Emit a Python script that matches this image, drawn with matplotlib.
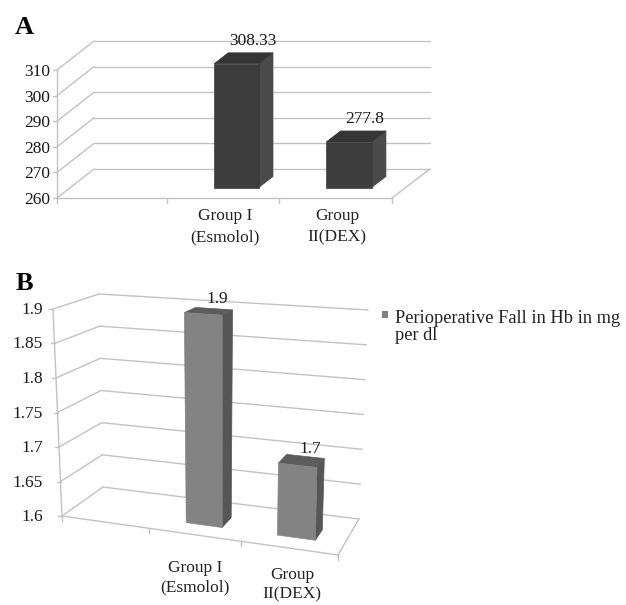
import matplotlib
matplotlib.use('Agg')
import matplotlib.pyplot as plt

plt.rcParams['font.family'] = ['Liberation Serif', 'DejaVu Serif']

# data
groups = ['Group I\n(Esmolol)', 'Group\nII(DEX)']
a_values = [308.33, 277.8]
a_labels = ['308.33', '277.8']
a_ticks = [260, 270, 280, 290, 300, 310]
a_ticklabels = ['260', '270', '280', '290', '300', '310']
b_values = [1.9, 1.7]
b_labels = ['1.9', '1.7']
b_ticks = [1.6, 1.65, 1.7, 1.75, 1.8, 1.85, 1.9]
b_ticklabels = ['1.6', '1.65', '1.7', '1.75', '1.8', '1.85', '1.9']
legend_text = 'Perioperative Fall in Hb in mg\nper dl'

GRID = '#c2c2c2'

fig = plt.figure(figsize=(6.26, 6.05), dpi=100)
ax = fig.add_axes([0, 0, 1, 1])
ax.set_xlim(0, 626)
ax.set_ylim(605, 0)
ax.axis('off')


def make_box(corners, vmin, vmax, warp):
    # corners: pixel place of the box corners, key = (right, top, back)
    def project(cat, val, depth):
        t = cat / 3
        t = t / (warp - (warp - 1) * t)
        f = (val - vmin) / (vmax - vmin)
        px, py = 0, 0
        for (r, u, b), (cx, cy) in corners.items():
            w = (t if r else 1 - t) * (f if u else 1 - f) * (depth if b else 1 - depth)
            px += w * cx
            py += w * cy
        return px, py
    return project


def line(p, q, lw=1.0, color=GRID):
    ax.plot([p[0], q[0]], [p[1], q[1]], color=color, lw=lw, solid_capstyle='round', zorder=1)


def draw_panel(project, ticks, ticklabels, values, labels, label_off, cols, bar_w, d0, d1, tick_x, tick_dy):
    vmin, vmax = ticks[0], ticks[-1]
    # walls
    for v, tl in zip(ticks, ticklabels):
        line(project(0, v, 0), project(0, v, 1))
        line(project(0, v, 1), project(3, v, 1))
        p = project(0, v, 0)
        line(p, (p[0] - 4, p[1]))
        ax.text(tick_x, p[1] + tick_dy, tl, ha='right', va='center', fontsize=12.5, color='#1a1a1a')
    line(project(0, vmin, 0), project(0, vmax, 0))
    # floor
    line(project(0, vmin, 0), project(3, vmin, 0))
    line(project(3, vmin, 0), project(3, vmin, 1))
    for c in range(4):
        p = project(c, vmin, 0)
        line(p, (p[0], p[1] + 5))
    # bars, first category slot stays empty
    for i, v in enumerate(values):
        c = i + 1.5
        l, r = c - bar_w / 2, c + bar_w / 2
        front = [project(l, vmin, d0), project(r, vmin, d0), project(r, v, d0), project(l, v, d0)]
        side = [project(r, vmin, d0), project(r, vmin, d1), project(r, v, d1), project(r, v, d0)]
        top = [project(l, v, d0), project(r, v, d0), project(r, v, d1), project(l, v, d1)]
        ax.fill(*zip(*side), color=cols[1], lw=0.5, zorder=2)
        ax.fill(*zip(*top), color=cols[2], lw=0.5, zorder=2)
        ax.fill(*zip(*front), color=cols[0], lw=0.5, zorder=3)
        tx, ty = project(c, v, (d0 + d1) / 2)
        ax.text(tx + label_off[0], ty + label_off[1], labels[i], ha='center', va='center',
                fontsize=12.5, color='#1a1a1a', zorder=4)


# panel A
corners_a = {
    (0, 0, 0): (57, 198), (1, 0, 0): (392, 198), (0, 1, 0): (57, 70), (1, 1, 0): (392, 70),
    (0, 0, 1): (94, 169), (1, 0, 1): (430, 169), (0, 1, 1): (94, 41), (1, 1, 1): (430, 41),
}
proj_a = make_box(corners_a, a_ticks[0], a_ticks[-1], 1.02)
draw_panel(proj_a, a_ticks, a_ticklabels, a_values, a_labels, (9, -17),
           ('#3d3d3d', '#4b4b4b', '#353535'), 0.40, 0.36, 0.74, 50, 2)

# panel B
corners_b = {
    (0, 0, 0): (62, 516), (1, 0, 0): (338, 555), (0, 1, 0): (53, 309), (1, 1, 0): (343, 330),
    (0, 0, 1): (103, 487), (1, 0, 1): (359, 519), (0, 1, 1): (99, 294), (1, 1, 1): (368, 310),
}
proj_b = make_box(corners_b, b_ticks[0], b_ticks[-1], 1.08)
draw_panel(proj_b, b_ticks, b_ticklabels, b_values, b_labels, (9, -12),
           ('#838383', '#565656', '#5c5c5c'), 0.40, 0.3, 0.6, 43, 1)

# category labels
ax.text(225, 227, groups[0], ha='center', va='center', fontsize=12.5, linespacing=1.45, color='#222222')
ax.text(337, 227, groups[1], ha='center', va='center', fontsize=12.5, linespacing=1.45, color='#222222')
ax.text(195, 578, groups[0], ha='center', va='center', fontsize=12.5, linespacing=1.3, color='#222222')
ax.text(292, 585, groups[1], ha='center', va='center', fontsize=12.5, linespacing=1.3, color='#222222')

# panel letters
ax.text(15, 27, 'A', fontsize=19, fontweight='bold', va='center', color='black')
ax.text(16, 283, 'B', fontsize=19, fontweight='bold', va='center', color='black')

# legend
ax.fill([382, 388, 388, 382], [311, 311, 318, 318], color='#808080', lw=0)
ax.text(395, 327, legend_text, ha='left', va='center', fontsize=13.2, linespacing=1.05, color='#222222')

fig.savefig('out.png', dpi=100)
